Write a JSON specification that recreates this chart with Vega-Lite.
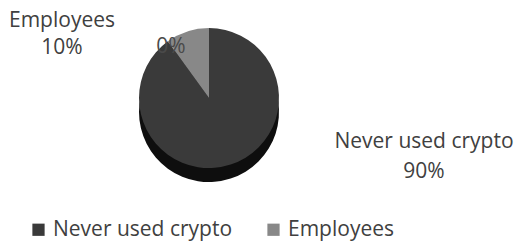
{
  "$schema": "https://vega.github.io/schema/vega-lite/v6.json",
  "autosize": {"type": "none"},
  "width": 418,
  "height": 196,
  "padding": {"left": 0, "top": 0, "right": 96, "bottom": 45},
  "background": "white",
  "config": {"view": {"stroke": null}, "font": "Open Sans", "text": {"font": "Open Sans"}},
  "data": {"values": [
    {"category": "Never used crypto", "share": 0.9},
    {"category": "Employees", "share": 0.1},
    {"category": "Other", "share": 0}
  ]},
  "encoding": {
    "theta": {"field": "share", "type": "quantitative", "stack": true},
    "order": {"field": "share", "type": "quantitative", "sort": "descending"}
  },
  "layer": [
    {"mark": {"type": "arc", "outerRadius": 70, "yOffset": 14, "fill": "#0e0e0e"}},
    {
      "mark": {"type": "arc", "outerRadius": 70},
      "encoding": {
        "color": {
          "field": "category", "type": "nominal",
          "scale": {"domain": ["Never used crypto", "Employees", "Other"], "range": ["#3a3a3a", "#888888", "#888888"]},
          "legend": {
            "values": ["Never used crypto", "Employees"],
            "orient": "none", "legendX": 28, "legendY": 219, "direction": "horizontal", "title": null,
            "labelFontSize": 21, "labelColor": "#404040", "labelFont": "Open Sans", "labelLimit": 400,
            "symbolType": "square", "symbolSize": 150, "symbolStrokeWidth": 0,
            "columnPadding": 30, "labelOffset": 4
          }
        }
      }
    },
    {
      "transform": [{"filter": "datum.category == 'Other'"}],
      "mark": {"type": "text", "radius": 48, "dx": -38, "dy": -3, "fontSize": 21, "color": "#4a4a4a"},
      "encoding": {"text": {"field": "share", "type": "quantitative", "format": ".0%"}}
    },
    {
      "transform": [{"filter": "datum.category == 'Employees'"}],
      "mark": {"type": "text", "radius": 0, "dx": -147, "dy": -77, "fontSize": 21, "color": "#404040"},
      "encoding": {"text": {"field": "category", "type": "nominal"}}
    },
    {
      "transform": [{"filter": "datum.category == 'Employees'"}],
      "mark": {"type": "text", "radius": 0, "dx": -147, "dy": -50, "fontSize": 21, "color": "#404040"},
      "encoding": {"text": {"field": "share", "type": "quantitative", "format": ".0%"}}
    },
    {
      "transform": [{"filter": "datum.category == 'Never used crypto'"}],
      "mark": {"type": "text", "radius": 0, "dx": 215, "dy": 44, "fontSize": 21, "color": "#404040"},
      "encoding": {"text": {"field": "category", "type": "nominal"}}
    },
    {
      "transform": [{"filter": "datum.category == 'Never used crypto'"}],
      "mark": {"type": "text", "radius": 0, "dx": 215, "dy": 74, "fontSize": 21, "color": "#404040"},
      "encoding": {"text": {"field": "share", "type": "quantitative", "format": ".0%"}}
    }
  ]
}
